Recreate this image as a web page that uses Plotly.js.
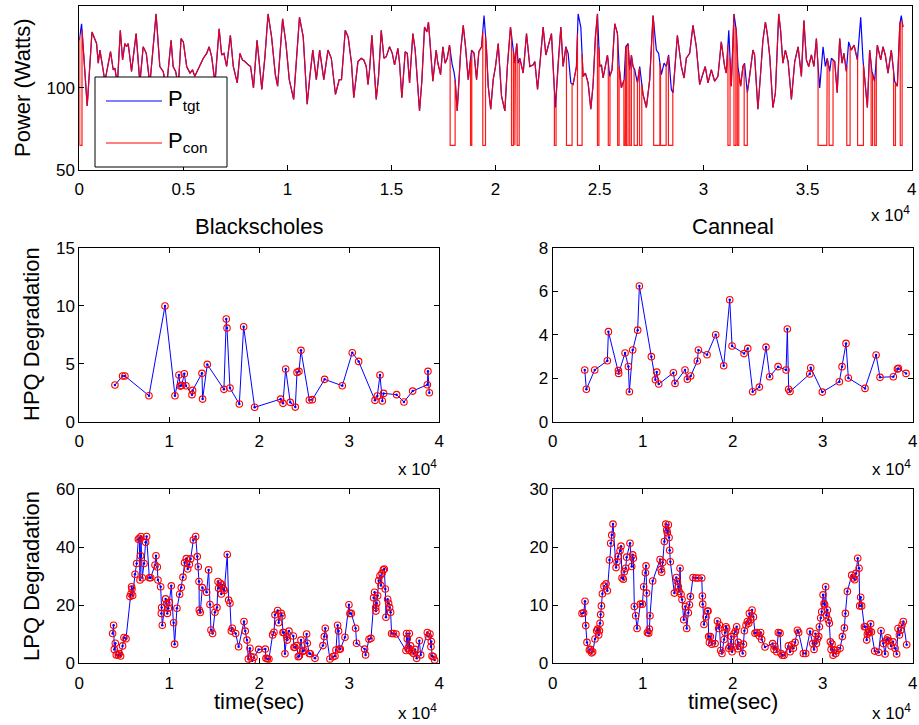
<!DOCTYPE html>
<html><head><meta charset="utf-8">
<script src="https://cdn.plot.ly/plotly-3.0.1.min.js"></script>
<style>html,body{margin:0;padding:0;background:#fff}#chart{width:919px;height:725px}</style>
</head><body><div id="chart"></div>
<script>
// ---------- Top panel: power trace (time in units of 1e4 s) ----------
const powerTime = [
 0.000,0.011,0.038,0.061,0.083,0.091,0.099,0.107,0.123,0.150,
 0.163,0.171,0.183,0.197,0.208,0.219,0.227,0.235,0.251,0.273,
 0.291,0.307,0.322,0.339,0.369,0.387,0.403,0.419,0.441,0.451,
 0.463,0.476,0.489,0.500,0.516,0.532,0.544,0.555,0.580,0.596,
 0.612,0.624,0.636,0.652,0.672,0.684,0.695,0.708,0.726,0.740,
 0.759,0.772,0.784,0.796,0.812,0.823,0.837,0.854,0.862,0.877,
 0.892,0.907,0.924,0.942,0.953,0.977,0.993,1.009,1.030,1.044,
 1.058,1.076,1.089,1.095,1.108,1.122,1.139,1.155,1.175,1.195,
 1.211,1.231,1.249,1.260,1.278,1.292,1.308,1.319,
 1.339,1.355,1.367,1.379,1.387,1.395,1.406,1.415,1.427,1.438,
 1.451,1.464,1.475,1.491,1.504,1.515,1.531,1.539,1.550,1.566,
 1.576,1.587,1.603,1.614,1.624,1.635,1.646,1.659,1.670,1.678,
 1.688,1.699,1.715,1.723,1.736,1.747,1.758,1.768,1.779,1.792,
 1.800,1.806,1.816,
 1.833,1.845,1.856,1.869,1.885,1.897,1.909,1.920,1.933,1.945,
 1.957,1.965,1.977,1.989,2.000,2.013,2.029,2.045,2.057,2.072,
 2.080,2.093,2.102,2.109,2.117,2.133,2.149,2.165,2.181,2.189,
 2.202,2.213,2.229,2.242,2.256,2.269,2.282,2.288,2.301,2.314,
 2.325,2.338,2.349,2.362,2.373,2.389,2.397,2.410,2.421,2.432,
 2.445,2.458,2.469,2.480,2.490,2.501,2.509,2.517,2.528,2.538,
 2.549,2.560,2.573,2.586,2.594,2.605,2.618,2.626,2.637,2.645,
 2.653,2.661,2.669,2.682,2.693,2.709,2.725,2.741,2.757,2.773,
 2.784,2.797,2.810,2.821,2.832,2.845,2.853,2.874,2.893,2.906,
 2.917,2.933,2.949,2.965,2.981,2.997,3.008,3.021,3.037,3.053,
 3.069,3.085,3.101,3.109,3.121,3.133,3.146,3.157,3.165,3.178,
 3.189,3.197,3.210,3.221,3.237,3.245,3.261,3.274,3.285,3.297,
 3.306,3.318,3.333,3.345,3.361,3.370,3.381,3.393,3.406,3.422,
 3.438,3.454,3.470,3.482,3.494,3.505,3.518,3.530,3.542,3.550,
 3.558,3.574,3.585,3.594,3.606,3.614,3.630,3.642,3.654,3.665,
 3.674,3.686,3.697,3.710,3.723,3.739,3.755,3.766,3.777,3.787,
 3.798,3.809,3.822,3.835,3.851,3.862,3.873,3.886,3.902,3.918,
 3.931,3.943,3.950,3.958
];
const powerTarget = [
 129,139,89,134,127,115,123,117,104,122,
 111,112,102,135,117,127,125,127,110,133,
 103,125,121,102,145,113,110,100,129,113,
 110,101,130,128,113,109,111,107,114,118,
 121,125,119,103,136,120,121,113,132,113,
 103,121,117,116,114,113,100,129,119,99,
 119,145,131,108,101,142,127,105,93,117,
 143,131,101,90,107,123,105,123,105,123,
 118,96,105,105,135,131,115,94,
 116,118,117,113,102,111,132,113,93,107,
 135,118,119,125,121,114,124,115,94,122,
 121,103,133,123,107,86,104,137,134,140,
 123,104,123,115,108,125,115,118,126,114,
 110,105,86,
 123,138,125,105,123,121,105,122,125,144,
 123,101,87,105,113,127,95,86,113,137,
 129,115,127,115,118,109,133,113,114,116,
 99,113,137,120,127,133,101,88,115,137,
 113,125,121,103,102,113,145,137,107,109,
 103,87,102,131,145,113,114,106,113,120,
 107,111,139,133,113,100,105,125,127,111,
 120,113,111,103,113,96,88,105,144,123,
 121,108,115,113,120,99,97,132,113,106,
 118,121,138,125,102,109,113,103,111,104,
 107,128,113,109,135,101,145,135,113,101,
 113,115,97,107,123,120,87,109,129,140,
 133,119,88,97,145,135,115,123,116,93,
 116,125,107,141,117,113,120,113,130,113,
 100,125,113,118,110,118,116,97,130,115,
 121,110,128,123,126,117,143,117,100,88,
 123,110,104,126,117,125,120,109,123,104,
 101,139,144,137
];
// intervals where the controlled power is cut to the floor level
const capDrops = [
 [0.002,0.013],[1.782,1.806],[1.880,1.886],[1.939,1.952],[2.077,2.086],[2.093,2.096],
 [2.104,2.114],[2.283,2.291],[2.341,2.368],[2.394,2.416],[2.490,2.497],[2.542,2.550],
 [2.587,2.594],[2.617,2.623],[2.629,2.637],[2.645,2.653],[2.666,2.682],[2.692,2.703],
 [2.760,2.790],[2.793,2.820],[2.831,2.852],[3.117,3.127],[3.146,3.155],[3.162,3.169],
 [3.195,3.210],[3.550,3.592],[3.603,3.622],[3.688,3.704],[3.740,3.768],[3.805,3.812],
 [3.822,3.830],[3.913,3.922],[3.945,3.954]
];
const capFloor = 65;

// ---------- Blackscholes ----------
const bsHpqTime = [0.396,0.481,0.507,0.774,0.952,1.063,1.107,1.122,1.137,1.167,1.185,1.252,1.259,1.363,1.370,1.422,1.607,1.633,1.641,1.674,1.778,1.826,1.948,2.237,2.263,2.293,2.344,2.400,2.419,2.441,2.463,2.556,2.589,2.726,2.922,3.033,3.104,3.285,3.311,3.341,3.367,3.381,3.526,3.607,3.704,3.867,3.874,3.889];
const bsHpq = [3.16,3.94,3.94,2.24,9.97,2.24,4.02,3.07,3.13,4.14,3.10,2.33,2.70,4.17,1.95,4.94,2.79,8.85,8.07,2.90,1.52,8.19,1.24,1.95,1.58,4.54,1.67,1.26,4.25,4.34,6.15,1.87,1.90,3.65,3.10,5.95,5.20,1.84,2.21,4.02,1.78,2.44,2.33,1.70,2.64,3.19,4.34,2.50];

const bsLpqTime = [
 0.370,0.381,0.389,0.400,0.411,0.433,0.444,0.459,0.481,0.496,0.519,0.563,0.574,0.581,0.585,0.593,0.619,0.637,0.656,0.667,
 0.674,0.681,0.685,0.700,0.719,0.737,0.748,0.778,0.793,0.841,0.852,0.867,0.874,0.904,0.911,0.915,0.922,0.959,0.970,0.978,
 0.989,1.000,1.022,1.048,1.059,1.085,1.115,1.133,1.152,1.170,1.189,1.204,1.222,1.237,1.267,1.293,1.311,1.322,1.330,1.333,
 1.344,1.367,1.415,1.437,1.452,1.463,1.481,1.507,1.530,1.541,1.548,1.567,1.578,1.589,1.600,1.611,1.644,1.659,1.674,1.689,
 1.700,1.737,1.770,1.830,1.844,1.863,1.878,1.896,1.907,1.922,1.941,1.993,2.067,2.074,2.089,2.107,2.148,2.163,2.174,2.204,
 2.215,2.244,2.252,2.263,2.274,2.285,2.304,2.311,2.330,2.378,2.385,2.396,2.415,2.433,2.444,2.463,2.481,2.496,2.526,2.533,
 2.556,2.567,2.619,2.707,2.722,2.733,2.785,2.819,2.841,2.852,2.870,2.881,2.889,2.900,2.952,2.996,3.007,3.022,3.070,3.081,
 3.170,3.181,3.219,3.241,3.270,3.281,3.293,3.296,3.304,3.315,3.326,3.341,3.352,3.363,3.378,3.389,3.400,3.407,3.426,3.437,
 3.448,3.459,3.470,3.489,3.519,3.630,3.637,3.644,3.652,3.667,3.670,3.681,3.696,3.715,3.730,3.748,3.778,3.793,3.867,3.878,
 3.896,3.907,3.911,3.919,3.933,3.948
];
const bsLpq = [
 10.3,13.1,4.8,6.9,2.9,2.9,3.4,2.5,6.0,8.9,8.5,23.0,23.9,26.4,25.6,23.4,30.7,34.4,42.8,43.1,
 28.7,37.1,43.7,29.5,34.4,41.7,43.7,29.5,29.5,33.9,37.1,33.2,28.7,26.4,17.2,19.2,13.1,22.2,20.5,17.2,
 19.0,21.0,26.7,14.0,6.6,19.0,23.8,26.1,29.7,34.7,36.1,32.5,34.1,36.0,42.5,43.7,36.8,33.3,28.2,18.4,
 17.5,26.1,24.5,32.2,20.3,11.5,10.3,17.6,19.2,28.2,25.9,27.6,23.9,27.0,25.6,25.1,37.5,21.8,20.7,11.1,
 12.1,10.3,5.7,14.4,11.1,8.0,1.5,5.2,2.3,0.9,2.1,4.8,4.9,1.7,1.6,1.5,9.8,10.7,16.7,18.2,
 14.0,17.2,16.3,10.6,10.6,3.3,9.2,8.0,11.1,9.4,5.5,5.5,6.1,2.3,2.5,8.0,4.1,4.4,10.1,6.9,
 3.4,3.3,1.7,6.1,9.2,12.1,1.5,2.3,2.5,4.6,13.1,11.1,4.9,4.9,9.0,20.2,17.2,17.2,12.1,6.9,
 4.9,2.9,8.3,8.6,22.6,24.5,19.2,18.0,20.7,23.3,28.5,30.2,26.8,31.0,32.2,32.5,25.6,15.9,22.1,20.7,
 19.2,17.6,10.3,10.3,10.1,4.4,10.3,8.5,5.2,10.3,4.4,6.0,4.0,3.4,4.8,1.7,7.8,2.9,10.6,9.2,
 10.1,5.7,7.5,2.5,2.3,1.1
];

// ---------- Canneal ----------
const cnHpqTime = [0.356,0.374,0.467,0.607,0.619,0.730,0.733,0.804,0.841,0.852,0.889,0.944,0.963,1.096,1.141,1.156,1.178,1.341,1.359,1.470,1.496,1.533,1.607,1.619,1.715,1.811,1.900,1.967,1.993,2.126,2.167,2.222,2.296,2.370,2.411,2.504,2.593,2.607,2.622,2.637,2.856,2.867,2.996,3.185,3.215,3.259,3.285,3.470,3.593,3.637,3.785,3.830,3.841,3.926];
const cnHpq = [2.38,1.49,2.38,2.80,4.14,2.35,2.22,3.16,2.54,1.38,3.30,4.21,6.24,2.99,1.93,2.28,1.73,2.25,1.76,2.38,1.95,2.10,2.79,3.30,3.08,4.00,2.57,5.61,3.48,3.13,3.37,1.38,1.59,3.43,2.07,2.53,2.38,4.26,1.49,1.39,2.19,2.48,1.36,1.84,2.53,3.60,2.01,1.53,3.07,2.04,2.07,2.42,2.45,2.22];

const cnLpqTime = [
 0.326,0.344,0.359,0.367,0.381,0.407,0.419,0.433,0.444,0.470,0.489,0.500,0.511,0.519,0.526,0.533,0.541,0.552,0.570,0.593,
 0.607,0.630,0.644,0.656,0.670,0.704,0.715,0.726,0.748,0.759,0.770,0.785,0.796,0.811,0.822,0.859,0.878,0.889,0.896,0.907,
 0.922,0.937,0.974,0.996,1.011,1.030,1.037,1.044,1.052,1.067,1.074,1.081,1.111,1.193,1.204,1.211,1.222,1.241,1.256,1.267,
 1.274,1.285,1.293,1.300,1.307,1.352,1.374,1.385,1.396,1.404,1.415,1.426,1.437,1.456,1.474,1.489,1.507,1.519,1.530,1.559,
 1.589,1.615,1.656,1.663,1.667,1.681,1.704,1.719,1.726,1.733,1.741,1.752,1.767,1.804,1.830,1.844,1.852,1.867,1.881,1.904,
 1.915,1.926,1.933,1.956,1.970,1.985,1.993,2.007,2.015,2.030,2.044,2.056,2.063,2.081,2.111,2.119,2.130,2.148,2.163,2.178,
 2.185,2.200,2.215,2.230,2.248,2.267,2.296,2.311,2.322,2.359,2.444,2.459,2.470,2.489,2.507,2.526,2.537,2.552,2.570,2.619,
 2.637,2.656,2.674,2.693,2.719,2.733,2.785,2.811,2.859,2.889,2.904,2.919,2.930,2.941,2.956,2.963,2.978,2.989,3.004,3.015,
 3.022,3.033,3.041,3.052,3.063,3.074,3.085,3.093,3.104,3.115,3.130,3.144,3.159,3.193,3.219,3.241,3.252,3.274,3.322,3.341,
 3.356,3.370,3.389,3.404,3.411,3.422,3.433,3.463,3.478,3.489,3.496,3.507,3.522,3.533,3.541,3.578,3.622,3.648,3.674,3.693,
 3.711,3.722,3.733,3.759,3.781,3.804,3.822,3.837,3.852,3.867,3.881,3.896,3.933
];
const cnLpq = [
 8.6,8.7,10.7,6.5,3.6,2.3,2.4,1.8,2.0,4.2,5.6,5.9,4.9,5.6,6.9,8.4,9.9,12.0,13.3,13.7,
 12.5,17.8,20.7,22.1,24.0,16.5,17.5,18.4,19.4,20.2,14.7,14.5,15.8,16.4,18.3,20.7,16.7,18.7,18.1,9.8,
 8.2,6.0,10.2,10.2,13.2,15.6,16.8,12.1,5.3,5.2,5.9,8.2,14.2,17.9,16.2,15.7,17.4,21.0,24.0,23.0,
 22.5,23.9,21.7,19.5,17.5,12.1,14.8,14.1,13.2,12.4,16.4,11.9,11.0,7.5,9.8,6.0,8.7,10.1,11.5,14.8,
 14.7,14.7,14.7,11.6,10.2,6.7,8.0,9.0,9.0,4.6,3.6,4.6,3.3,3.4,7.3,6.0,6.6,2.2,1.7,4.1,
 5.3,6.3,6.0,2.6,2.9,4.6,2.0,2.8,5.1,5.5,6.3,2.5,3.6,3.0,1.7,3.3,5.6,6.6,7.2,6.9,
 8.6,7.5,9.2,8.0,5.2,5.3,4.7,5.3,4.1,2.8,3.4,2.4,2.9,2.0,5.3,5.2,1.7,1.4,1.4,3.0,
 2.0,3.2,2.6,3.6,5.7,5.3,1.7,1.7,5.5,3.4,2.4,5.1,3.4,4.2,4.6,6.3,7.8,8.9,11.8,10.3,
 10.1,13.2,8.3,9.2,7.5,6.9,3.7,2.4,3.3,1.4,2.3,1.7,2.2,2.6,4.6,6.1,8.6,12.4,15.2,14.7,
 14.4,15.5,18.1,16.4,9.9,11.4,9.9,6.3,6.3,4.0,5.0,5.3,5.5,6.8,5.4,2.1,1.9,5.6,3.4,1.6,
 4.0,4.4,3.9,3.0,3.7,2.6,1.6,6.0,4.9,5.7,6.6,7.2,3.2
];

// ---------- text ----------
const xTicks = [0,0.5,1,1.5,2,2.5,3,3.5,4];
const xTickText = ['0','0.5','1','1.5','2','2.5','3','3.5','4'];
const panelTitles = ['Blackscholes','Canneal'];
const legendNames = ['P<sub>tgt</sub>','P<sub>con</sub>'];

// ---------- build controlled power from target + cut intervals ----------
function lineAt(x){
  for(let i=1;i<powerTime.length;i++){
    if(powerTime[i]>=x){
      const t=(x-powerTime[i-1])/(powerTime[i]-powerTime[i-1]);
      return powerTarget[i-1]+t*(powerTarget[i]-powerTarget[i-1]);
    }
  }
  return powerTarget[powerTarget.length-1];
}
const conX=[],conY=[]; let di=0;
for(let i=0;i<powerTime.length;i++){
  const x=powerTime[i];
  while(di<capDrops.length && capDrops[di][0]<=x){
    const a=capDrops[di][0], b=capDrops[di][1];
    conX.push(a,a,b,b); conY.push(lineAt(a),capFloor,capFloor,lineAt(b));
    di++;
  }
  const inside = capDrops.some(d=>x>=d[0]&&x<=d[1]);
  if(!inside){conX.push(x);conY.push(powerTarget[i]);}
}

const F = 'Liberation Sans, Arial, Helvetica, sans-serif';
const W=919, H=725;
const px = v=>v/W, py = v=>1-v/H;

function axis(extra){
  return Object.assign({
    showline:true, linecolor:'#000', linewidth:1, mirror:'allticks',
    ticks:'inside', ticklen:5, tickwidth:1, tickcolor:'#000',
    showgrid:false, zeroline:false, fixedrange:true,
    tickfont:{family:F,size:17,color:'#000'}
  }, extra);
}

const blue='#0000ff', red='#ff0000';
function degTraces(x,y,xa,ya){
  return [
    {type:'scatter',mode:'lines+markers',x:x,y:y,xaxis:xa,yaxis:ya,line:{color:blue,width:1},marker:{color:blue,size:2.5},hoverinfo:'skip',showlegend:false},
    {type:'scatter',mode:'markers',x:x,y:y,xaxis:xa,yaxis:ya,marker:{symbol:'circle-open',color:red,size:6.5,line:{width:1.1,color:red}},hoverinfo:'skip',showlegend:false}
  ];
}

const data = [
  {type:'scatter',mode:'lines',x:powerTime,y:powerTarget,xaxis:'x',yaxis:'y',line:{color:blue,width:1.2},name:'P_tgt',showlegend:false,hoverinfo:'skip'},
  {type:'scatter',mode:'lines',x:conX,y:conY,xaxis:'x',yaxis:'y',line:{color:red,width:1.2},opacity:0.9,name:'P_con',showlegend:false,hoverinfo:'skip'},
  ...degTraces(bsHpqTime,bsHpq,'x2','y2'),
  ...degTraces(cnHpqTime,cnHpq,'x3','y3'),
  ...degTraces(bsLpqTime,bsLpq,'x4','y4'),
  ...degTraces(cnLpqTime,cnLpq,'x5','y5')
];

const xL=[px(79.3),px(439.3)], xR=[px(552.7),px(912.7)];
const yMid=[py(421.7),py(247.7)], yBot=[py(663.3),py(489.3)];
const xCommon = {range:[0,4],tickvals:xTicks.filter((v,i)=>i%2===0),ticktext:xTickText.filter((v,i)=>i%2===0),ticklabelstandoff:4};

const layout = {
  width:W, height:H, margin:{l:0,r:0,t:0,b:0},
  paper_bgcolor:'#fff', plot_bgcolor:'#fff', showlegend:false,
  font:{family:F,color:'#000'},
  xaxis: axis({domain:[px(79.3),px(911.7)],anchor:'y',range:[0,4],tickvals:xTicks,ticktext:xTickText,ticklabelstandoff:4}),
  yaxis: axis({domain:[py(170),py(5.7)],anchor:'x',range:[50,150],tickvals:[50,100,150]}),
  xaxis2: axis(Object.assign({domain:xL,anchor:'y2'},xCommon)),
  yaxis2: axis({domain:yMid,anchor:'x2',range:[0,15],tickvals:[0,5,10,15]}),
  xaxis3: axis(Object.assign({domain:xR,anchor:'y3'},xCommon)),
  yaxis3: axis({domain:yMid,anchor:'x3',range:[0,8],tickvals:[0,2,4,6,8]}),
  xaxis4: axis(Object.assign({domain:xL,anchor:'y4'},xCommon)),
  yaxis4: axis({domain:yBot,anchor:'x4',range:[0,60],tickvals:[0,20,40,60]}),
  xaxis5: axis(Object.assign({domain:xR,anchor:'y5'},xCommon)),
  yaxis5: axis({domain:yBot,anchor:'x5',range:[0,30],tickvals:[0,10,20,30]}),
  shapes:[
    {type:'rect',xref:'paper',yref:'paper',x0:px(95),x1:px(227),y0:py(167),y1:py(77),fillcolor:'#fff',line:{color:'#000',width:1},layer:'above'},
    {type:'line',xref:'paper',yref:'paper',x0:px(106),x1:px(162),y0:py(101),y1:py(101),line:{color:blue,width:1},layer:'above'},
    {type:'line',xref:'paper',yref:'paper',x0:px(106),x1:px(162),y0:py(143),y1:py(143),line:{color:red,width:1},layer:'above'}
  ],
  annotations:[]
};
const A = layout.annotations;
function ann(text,x,y,opts){A.push(Object.assign({text:text,xref:'paper',yref:'paper',x:px(x),y:py(y),showarrow:false,font:{family:F,size:22,color:'#000'},xanchor:'center',yanchor:'middle'},opts||{}));}
ann(legendNames[0],166,100,{xanchor:'left'});
ann(legendNames[1],166,142,{xanchor:'left'});
ann('Power (Watts)',22,88,{textangle:-90});
ann('HPQ Degradation',31,334,{textangle:-90});
ann('LPQ Degradation',31,576,{textangle:-90});
ann(panelTitles[0],259,226);
ann(panelTitles[1],733,226);
ann('time(sec)',259,701);
ann('time(sec)',733,701);
const sci = 'x 10<sup>4</sup>';
[[912,214],[439,468],[913,468],[439,712],[913,712]].forEach(p=>ann(sci,p[0],p[1],{xanchor:'right',font:{family:F,size:17,color:'#000'}}));

if(powerTime.length!==powerTarget.length||bsLpqTime.length!==bsLpq.length||cnLpqTime.length!==cnLpq.length||bsHpqTime.length!==bsHpq.length||cnHpqTime.length!==cnHpq.length){
  console.error('length mismatch',powerTime.length,powerTarget.length,bsLpqTime.length,bsLpq.length,cnLpqTime.length,cnLpq.length,bsHpqTime.length,bsHpq.length,cnHpqTime.length,cnHpq.length);
}
Plotly.newPlot('chart',data,layout,{staticPlot:true,displayModeBar:false});
</script>
</body></html>
